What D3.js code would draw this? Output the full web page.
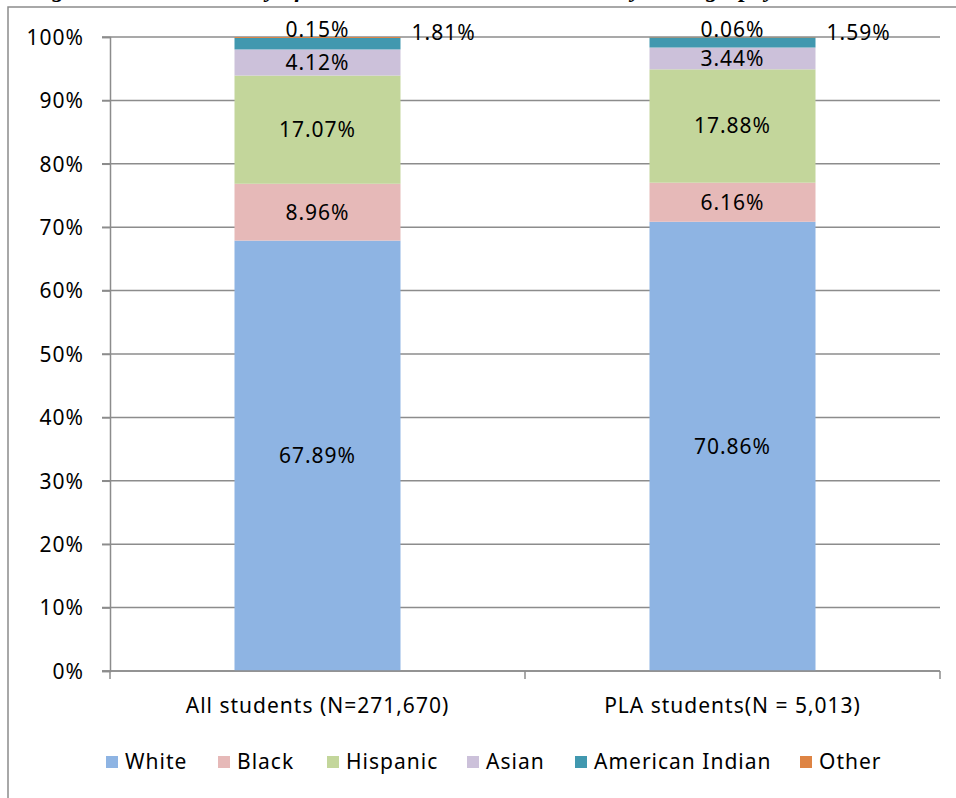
<!DOCTYPE html>
<html>
<head>
<meta charset="utf-8">
<script src="https://cdn.jsdelivr.net/npm/d3@7"></script>
<style>
  body { margin: 0; background: #fff; }
  svg { display: block; }
  text { font-family: "Noto Sans", "Open Sans", sans-serif; fill: #000; }
  .lbl { font-size: 21px; letter-spacing: 1px; }
</style>
</head>
<body>
<div id="chart"></div>
<script>
// chart data
var categories = ["All students (N=271,670)", "PLA students(N = 5,013)"];
var seriesNames = ["White", "Black", "Hispanic", "Asian", "American Indian", "Other"];
var white = [67.89, 70.86];
var black = [8.96, 6.16];
var hispanic = [17.07, 17.88];
var asian = [4.12, 3.44];
var americanIndian = [1.81, 1.59];
var other = [0.15, 0.06];
var yTicks = [0, 10, 20, 30, 40, 50, 60, 70, 80, 90, 100];

var colors = ["#8EB4E3", "#E6B9B8", "#C3D69B", "#CCC1DA", "#4198AF", "#DE8444"];

var width = 956, height = 798;
var margin = {left: 110, right: 16, top: 37, bottom: 127};

var svg = d3.select("#chart").append("svg")
    .attr("width", width)
    .attr("height", height);

// outer frame (only left + top edges fall inside the picture)
svg.append("rect")
    .attr("x", 8).attr("y", 7)
    .attr("width", width + 10).attr("height", height + 10)
    .attr("fill", "none")
    .attr("stroke", "#8c8c8c")
    .attr("stroke-width", 1.5);

// title, cut off at the top like in the source picture
svg.append("text")
    .attr("x", 30).attr("y", -3)
    .style("font-family", "'Liberation Serif', serif")
    .style("font-weight", "bold")
    .style("font-style", "italic")
    .style("font-size", "24px")
    .text("Figure 2: Race/Ethnicity of All Students and PLA Students by Demography");

var rows = categories.map(function (c, i) {
    return {
        cat: c,
        "White": white[i],
        "Black": black[i],
        "Hispanic": hispanic[i],
        "Asian": asian[i],
        "American Indian": americanIndian[i],
        "Other": other[i]
    };
});

var stacked = d3.stack().keys(seriesNames)(rows);

var x = d3.scaleBand()
    .domain(categories)
    .range([margin.left, width - margin.right])
    .paddingInner(0.6)
    .paddingOuter(0.3);

var y = d3.scaleLinear()
    .domain([0, 100])
    .range([height - margin.bottom, margin.top]);

var color = d3.scaleOrdinal().domain(seriesNames).range(colors);

// gridlines
svg.append("g")
    .selectAll("line")
    .data(yTicks)
    .enter().append("line")
    .attr("x1", margin.left - 8)
    .attr("x2", width - margin.right)
    .attr("y1", function (d) { return y(d); })
    .attr("y2", function (d) { return y(d); })
    .attr("stroke", "#8c8c8c")
    .attr("stroke-width", 1.5);

// y axis
var yAxis = svg.append("g")
    .attr("transform", "translate(" + margin.left + ",0)")
    .call(d3.axisLeft(y).tickValues(yTicks).tickSize(8).tickPadding(18)
        .tickFormat(function (d) { return d + "%"; }));
yAxis.select(".domain").attr("stroke", "#8c8c8c").attr("stroke-width", 1.5);
yAxis.selectAll(".tick line").attr("stroke", "#8c8c8c").attr("stroke-width", 1.5);
yAxis.selectAll(".tick text")
    .attr("class", "lbl")
    .attr("font-size", null)
    .attr("dy", "0.35em");

// bars
var layer = svg.append("g")
    .selectAll("g")
    .data(stacked)
    .enter().append("g")
    .attr("fill", function (d) { return color(d.key); });

layer.selectAll("rect")
    .data(function (d) { return d; })
    .enter().append("rect")
    .attr("x", function (d) { return x(d.data.cat); })
    .attr("width", x.bandwidth())
    .attr("y", function (d) { return y(d[1]); })
    .attr("height", function (d) { return y(d[0]) - y(d[1]); });

// x axis line and category separators
var xAxisY = y(0);
svg.append("line")
    .attr("x1", margin.left - 8).attr("x2", width - margin.right)
    .attr("y1", xAxisY).attr("y2", xAxisY)
    .attr("stroke", "#8c8c8c").attr("stroke-width", 1.5);
var edges = d3.range(categories.length + 1).map(function (i) {
    return margin.left + i * (width - margin.right - margin.left) / categories.length;
});
svg.append("g").selectAll("line")
    .data(edges)
    .enter().append("line")
    .attr("x1", function (d) { return d; }).attr("x2", function (d) { return d; })
    .attr("y1", xAxisY).attr("y2", xAxisY + 8)
    .attr("stroke", "#8c8c8c").attr("stroke-width", 1.5);

svg.append("g").selectAll("text")
    .data(categories)
    .enter().append("text")
    .attr("class", "lbl")
    .attr("x", function (d) { return x(d) + x.bandwidth() / 2; })
    .attr("y", xAxisY + 42)
    .attr("text-anchor", "middle")
    .text(function (d) { return d; });

// value labels
stacked.forEach(function (s) {
    s.forEach(function (d) {
        var cx = x(d.data.cat) + x.bandwidth() / 2;
        var v = d.data[s.key];
        var lbl = svg.append("text")
            .attr("class", "lbl")
            .attr("dy", "0.35em")
            .text(v.toFixed(2) + "%");
        if (s.key === "Other") {
            lbl.attr("x", cx).attr("y", y(d[1]) - 7).attr("text-anchor", "middle");
        } else if (s.key === "American Indian") {
            lbl.attr("x", x(d.data.cat) + x.bandwidth() + 11).attr("y", y(100) - 4);
        } else {
            lbl.attr("x", cx).attr("y", (y(d[0]) + y(d[1])) / 2).attr("text-anchor", "middle");
        }
    });
});

// legend
var legendX = [106, 218, 327, 467, 575, 800];
var legend = svg.append("g").selectAll("g")
    .data(seriesNames)
    .enter().append("g")
    .attr("transform", function (d, i) { return "translate(" + legendX[i] + "," + 762 + ")"; });
legend.append("rect")
    .attr("x", 0).attr("y", -6)
    .attr("width", 12).attr("height", 12)
    .attr("fill", function (d) { return color(d); });
legend.append("text")
    .attr("class", "lbl")
    .attr("x", 19)
    .attr("dy", "0.35em")
    .text(function (d) { return d; });
</script>
</body>
</html>
